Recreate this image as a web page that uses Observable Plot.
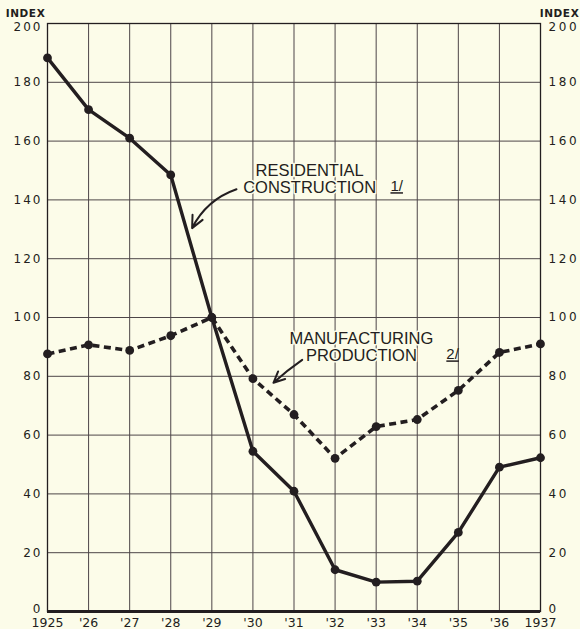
<!DOCTYPE html>
<html>
<head>
<meta charset="utf-8">
<script src="https://cdn.jsdelivr.net/npm/d3@7"></script>
<script src="https://cdn.jsdelivr.net/npm/@observablehq/plot@0.6"></script>
<style>
  html, body { margin: 0; padding: 0; background: #fcfce9; }
  #chart { width: 580px; height: 629px; }
</style>
</head>
<body>
<div id="chart"></div>
<script>
const years = [1925, 1926, 1927, 1928, 1929, 1930, 1931, 1932, 1933, 1934, 1935, 1936, 1937];
const residential = [188.3, 170.7, 161, 148.5, 100, 54.5, 40.9, 14.2, 10, 10.3, 26.9, 49.1, 52.3];
const manufacturing = [87.6, 90.7, 88.8, 93.8, 100, 79.2, 67, 52.1, 62.9, 65.3, 75.2, 88.1, 91];
const yTicks = [0, 20, 40, 60, 80, 100, 120, 140, 160, 180, 200];
const xTickLabels = ["1925", "'26", "'27", "'28", "'29", "'30", "'31", "'32", "'33", "'34", "'35", "'36", "1937"];

// annotation positions in data coordinates
const labels = [
  {x: 1931.38, y: 147.2, text: "RESIDENTIAL\nCONSTRUCTION"},
  {x: 1932.64, y: 90, text: "MANUFACTURING\nPRODUCTION"}
];
const notes = [
  {x: 1933.5, y: 144.6, text: "1/"},
  {x: 1934.86, y: 87.4, text: "2/"}
];
const arrowResidential = [{x1: 1929.6, y1: 143.6, x2: 1928.52, y2: 130.4}];
const arrowManufacturing = [{x1: 1931.2, y1: 85.6, x2: 1930.5, y2: 77.8}];

const resData = years.map((yr, i) => ({year: yr, value: residential[i]}));
const manData = years.map((yr, i) => ({year: yr, value: manufacturing[i]}));

const ink = "#231e20";
const gridInk = "#4d4548";
const bg = "#fcfce9";

const chart = Plot.plot({
  width: 580,
  height: 629,
  marginTop: 23,
  marginRight: 40,
  marginBottom: 18,
  marginLeft: 47,
  style: {background: bg, fontFamily: "DejaVu Sans, sans-serif", fontSize: "12px", color: ink},
  x: {domain: [1925, 1937]},
  y: {domain: [0, 200]},
  marks: [
    Plot.gridX(years, {stroke: gridInk, strokeOpacity: 1, strokeWidth: 1}),
    Plot.gridY(yTicks, {stroke: gridInk, strokeOpacity: 1, strokeWidth: 1}),
    Plot.frame({stroke: ink, strokeWidth: 1.3}),
    Plot.ruleY([0], {stroke: ink, strokeWidth: 3.2}),
    Plot.axisY({anchor: "left", ticks: yTicks, tickSize: 0, tickPadding: 5, label: null, fill: ink, fontSize: 12, className: "left-axis"}),
    Plot.axisY({anchor: "right", ticks: yTicks, tickSize: 0, tickPadding: 8, label: null, fill: ink, fontSize: 12, className: "right-axis"}),
    Plot.axisX({ticks: years, tickSize: 0, tickPadding: 7, label: null, fill: ink, fontSize: 12.5,
      tickFormat: d => xTickLabels[years.indexOf(d)]}),
    Plot.text(["INDEX"], {frameAnchor: "top-left", lineAnchor: "middle", dx: -22, dy: -10, fill: ink, fontSize: 10.5, fontWeight: "bold", textAnchor: "middle", className: "index-label"}),
    Plot.text(["INDEX"], {frameAnchor: "top-right", lineAnchor: "middle", dx: 19, dy: -10, fill: ink, fontSize: 10.5, fontWeight: "bold", textAnchor: "middle", className: "index-label"}),
    Plot.line(manData, {x: "year", y: "value", stroke: ink, strokeWidth: 3.6, strokeDasharray: "7,4.5", strokeLinecap: "butt"}),
    Plot.dot(manData, {x: "year", y: "value", r: 4.4, fill: ink}),
    Plot.line(resData, {x: "year", y: "value", stroke: ink, strokeWidth: 3.4}),
    Plot.dot(resData, {x: "year", y: "value", r: 4.4, fill: ink}),
    Plot.text(labels, {x: "x", y: "y", text: "text", fill: ink, fontSize: 16.5, fontFamily: "Liberation Sans, sans-serif", lineHeight: 1.03, textAnchor: "middle", stroke: bg, strokeWidth: 3, paintOrder: "stroke"}),
    Plot.text(notes, {x: "x", y: "y", text: "text", fill: ink, fontSize: 15, fontFamily: "Liberation Sans, sans-serif", textAnchor: "middle", className: "footnote"}),
    Plot.arrow(arrowResidential, {x1: "x1", y1: "y1", x2: "x2", y2: "y2", bend: -22, stroke: ink, strokeWidth: 2, headLength: 10, headAngle: 50}),
    Plot.arrow(arrowManufacturing, {x1: "x1", y1: "y1", x2: "x2", y2: "y2", bend: -4, stroke: ink, strokeWidth: 2, headLength: 10, headAngle: 50})
  ]
});

const svg = d3.select(chart);
svg.selectAll(".left-axis text").style("letter-spacing", "2px");
svg.selectAll(".right-axis text").style("letter-spacing", "2.6px");
svg.selectAll(".index-label text").style("letter-spacing", "0.6px");
svg.selectAll(".footnote text").style("text-decoration", "underline");
// nudge the end labels as in the original lettering
svg.selectAll(".left-axis text, .right-axis text").each(function() {
  const t = this.textContent;
  let shift = 0;
  if (t === "200") shift = 4;
  if (t === "0") shift = -2.5;
  if (shift) this.setAttribute("transform", (this.getAttribute("transform") || "") + ` translate(0,${shift})`);
});
document.getElementById("chart").appendChild(chart);
</script>
</body>
</html>
